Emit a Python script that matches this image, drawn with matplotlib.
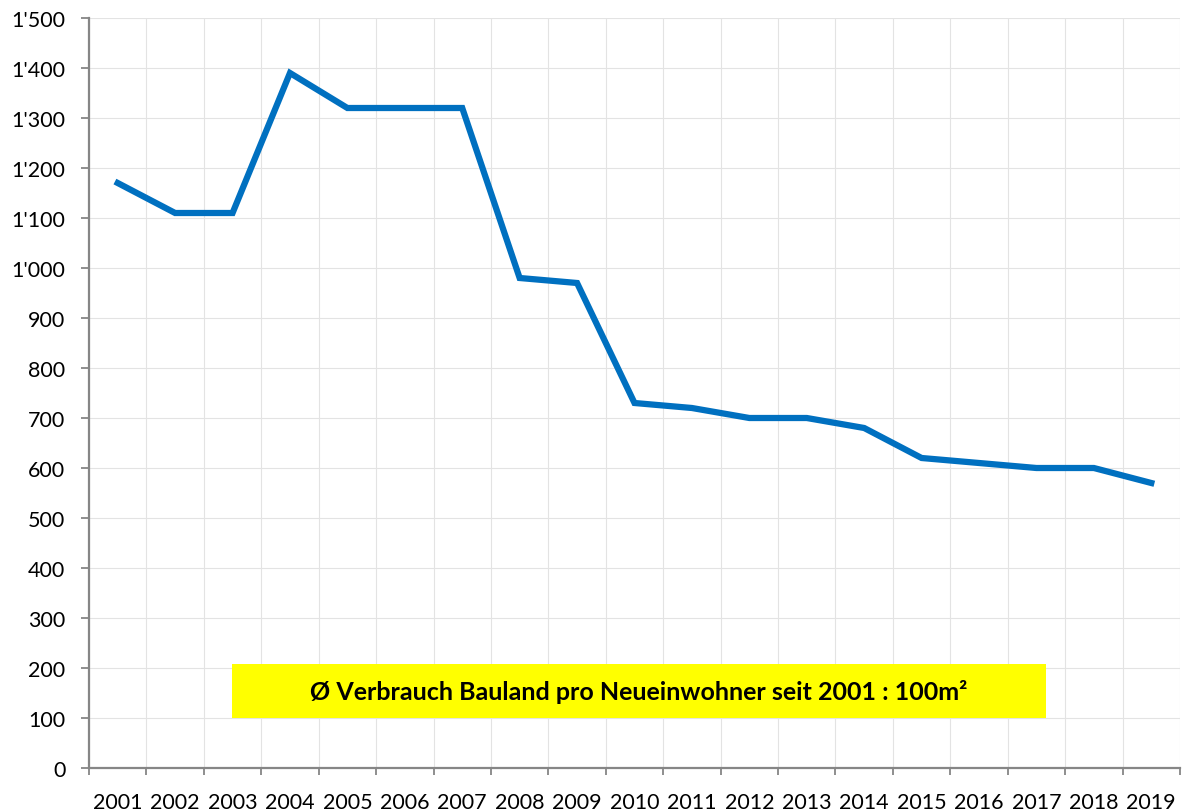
import matplotlib
matplotlib.use("Agg")
import matplotlib.pyplot as plt
from matplotlib.ticker import FuncFormatter, FixedLocator
import numpy as np

years = [str(y) for y in range(2001, 2020)]
values = [1170, 1110, 1110, 1390, 1320, 1320, 1320, 980, 970, 730,
          720, 700, 700, 680, 620, 610, 600, 600, 570]
yticks = list(range(0, 1501, 100))
note = "Ø Verbrauch Bauland pro Neueinwohner seit 2001 : 100m²"

plt.rcParams['font.family'] = ['Lato', 'DejaVu Sans']

fig = plt.figure(figsize=(11.82, 8.12), dpi=100)
ax = fig.add_axes([89/1182, 43/812, (1180-89)/1182, (769-19)/812])

x = np.arange(len(years))
ax.plot(x, values, color='#0070C0', linewidth=4.5, solid_joinstyle='miter', zorder=3)

ax.set_xlim(-0.5, len(years) - 0.5)
ax.set_ylim(0, 1500)
ax.set_yticks(yticks)
ax.yaxis.set_major_formatter(FuncFormatter(lambda v, p: f"{int(v):,}".replace(",", "'")))
ax.set_xticks(x)
ax.set_xticklabels(years)
ax.xaxis.set_minor_locator(FixedLocator(np.arange(-0.5, len(years), 1.0)))

ax.grid(axis='y', which='major', color='#e3e3e3', linewidth=0.8)
ax.grid(axis='x', which='minor', color='#e3e3e3', linewidth=0.8)
ax.set_axisbelow(True)

for s in ['top', 'right']:
    ax.spines[s].set_visible(False)
for s in ['left', 'bottom']:
    ax.spines[s].set_color('#868686')
    ax.spines[s].set_linewidth(1.6)

ax.tick_params(axis='x', which='major', length=0, pad=17, labelsize=15.5, labelcolor='black')
ax.tick_params(axis='x', which='minor', length=5, width=1.3, color='#868686', direction='out')
ax.tick_params(axis='y', which='major', length=6, width=1.3, color='#868686', pad=11,
               labelsize=15.5, labelcolor='black')

# yellow annotation box
x0 = (232 - 118) / ((1152 - 118) / 18)
x1 = (1047 - 118) / ((1152 - 118) / 18)
ax.add_patch(plt.Rectangle((x0, 100), x1 - x0, 108, facecolor='#FFFF00', edgecolor='none', zorder=2))
ax.text((x0 + x1) / 2, 154, note, ha='center', va='center', fontsize=18,
        fontweight='bold', color='black', zorder=4)

fig.savefig("out.png", dpi=100)
